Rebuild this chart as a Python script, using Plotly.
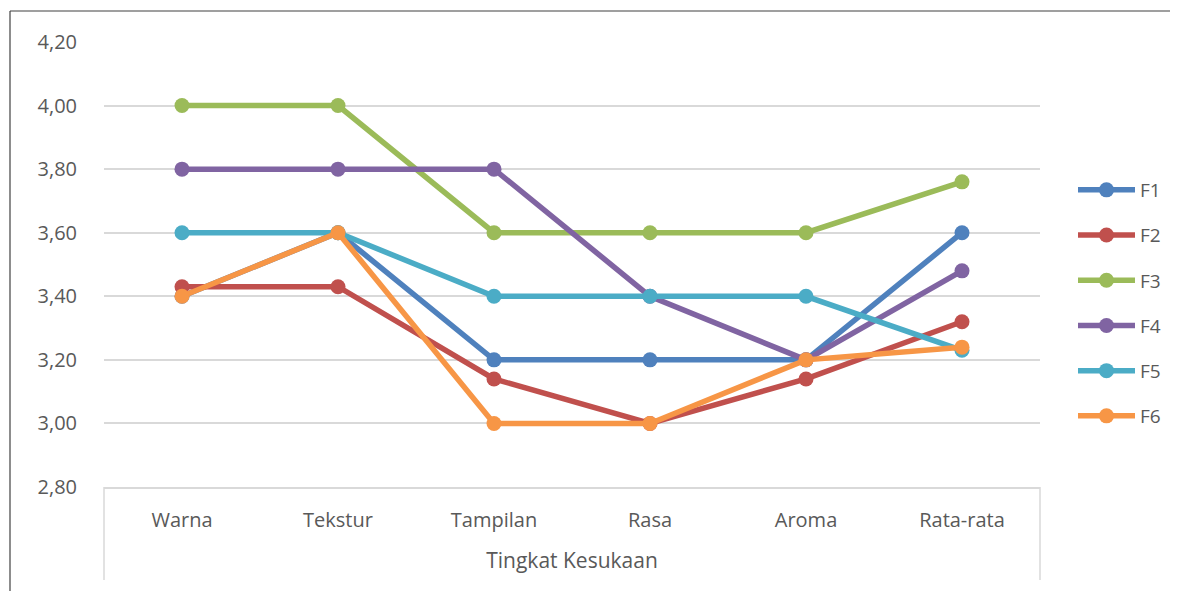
import plotly.graph_objects as go

categories = ["Warna", "Tekstur", "Tampilan", "Rasa", "Aroma", "Rata-rata"]
series_names = ["F1", "F2", "F3", "F4", "F5", "F6"]
F1 = [3.40, 3.60, 3.20, 3.20, 3.20, 3.60]
F2 = [3.43, 3.43, 3.14, 3.00, 3.14, 3.32]
F3 = [4.00, 4.00, 3.60, 3.60, 3.60, 3.76]
F4 = [3.80, 3.80, 3.80, 3.40, 3.20, 3.48]
F5 = [3.60, 3.60, 3.40, 3.40, 3.40, 3.23]
F6 = [3.40, 3.60, 3.00, 3.00, 3.20, 3.24]
series_values = [F1, F2, F3, F4, F5, F6]
colors = ["#4F81BD", "#C0504D", "#9BBB59", "#8064A2", "#4BACC6", "#F79646"]
y_ticks = [2.8, 3.0, 3.2, 3.4, 3.6, 3.8, 4.0, 4.2]
y_tick_labels = ["2,80", "3,00", "3,20", "3,40", "3,60", "3,80", "4,00", "4,20"]
group_label = "Tingkat Kesukaan"

FONT = "Open Sans"
TXT = "#595959"

fig = go.Figure()
for name, vals, col in zip(series_names, series_values, colors):
    fig.add_trace(go.Scatter(
        x=categories, y=vals, name=name, mode="lines+markers",
        line=dict(color=col, width=5.5),
        marker=dict(color=col, size=15),
        legendgroup=name,
    ))

OFF = 8  # page body margin
W, H = 1178 - OFF, 591 - OFF
# plot area in window pixels
L, R, T, B = 104, 1040, 42, 487
pw, ph = R - L, B - T

def px_x(x):
    return (x - L) / pw

def px_y(y):
    return (B - y) / ph

shapes = [
    dict(type="line", xref="paper", yref="paper", x0=0, x1=0, y0=0, y1=px_y(580),
         line=dict(color="#d9d9d9", width=1.5)),
    dict(type="line", xref="paper", yref="paper", x0=1, x1=1, y0=0, y1=px_y(580),
         line=dict(color="#d9d9d9", width=1.5)),
    dict(type="line", xref="paper", yref="paper", x0=px_x(10), x1=px_x(1180), y0=px_y(11), y1=px_y(11),
         line=dict(color="#404040", width=1.2)),
    dict(type="line", xref="paper", yref="paper", x0=px_x(10), x1=px_x(10), y0=px_y(11), y1=px_y(595),
         line=dict(color="#404040", width=1.2)),
]

fig.update_layout(
    width=W, height=H,
    margin=dict(l=L - OFF, r=1178 - R, t=T - OFF, b=591 - B, pad=0),
    paper_bgcolor="white", plot_bgcolor="white",
    font=dict(family=FONT, size=20, color=TXT),
    shapes=shapes,
    showlegend=True,
    legend=dict(x=px_x(1073), xanchor="left", y=px_y(303), yanchor="middle",
                tracegroupgap=17.5, itemwidth=57, font=dict(size=19, color=TXT),
                bgcolor="rgba(0,0,0,0)"),
    xaxis=dict(
        type="category", range=[-0.5, 5.5],
        showgrid=False, showline=True, linecolor="#d9d9d9", linewidth=1.5,
        ticks="", tickfont=dict(size=20, color=TXT), ticklabelstandoff=14,
        title=dict(text=group_label, font=dict(size=21, color=TXT), standoff=22),
        zeroline=False,
    ),
    yaxis=dict(
        range=[2.8, 4.2], tickvals=y_ticks, ticktext=y_tick_labels,
        showgrid=True, gridcolor="#d9d9d9", gridwidth=1.5,
        showline=False, zeroline=False, ticks="",
        tickfont=dict(size=20, color=TXT), ticklabelstandoff=26,
    ),
)

fig.write_html("out.html")
